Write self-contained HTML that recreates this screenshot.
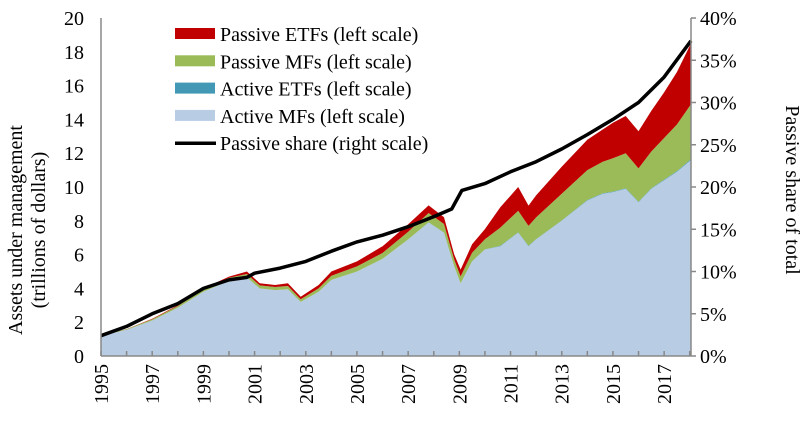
<!DOCTYPE html>
<html><head><meta charset="utf-8"><style>
body{margin:0;background:#fff;width:800px;height:418px;overflow:hidden}
svg text{font-family:"Liberation Serif",serif;fill:#000}
</style></head><body>
<svg id="c" width="800" height="418"></svg>
<script>
const years=[1995,1996,1997,1998,1999,2000,2000.7,2001.2,2001.8,2002.3,2002.8,2003.5,2004,2005,2006,2007,2007.8,2008.4,2008.8,2009.05,2009.5,2010,2010.6,2011.3,2011.7,2012,2013,2014,2014.6,2015,2015.5,2016,2016.5,2017,2017.5,2018.05];
const activeMF=[1.2,1.55,2.1,2.85,3.8,4.45,4.65,4.0,3.9,3.95,3.2,3.8,4.5,5.0,5.75,6.9,7.9,7.3,5.3,4.3,5.6,6.3,6.5,7.3,6.5,6.9,8.0,9.2,9.6,9.7,9.9,9.1,9.9,10.4,10.9,11.6];
const activeETF=[0,0,0,0,0,0,0,0,0,0,0,0,0,0,0,0,0.01,0.01,0.01,0.01,0.01,0.01,0.02,0.02,0.02,0.02,0.02,0.03,0.03,0.03,0.03,0.03,0.03,0.04,0.04,0.05];
const passiveMF=[0.03,0.04,0.07,0.11,0.15,0.18,0.2,0.18,0.18,0.19,0.16,0.2,0.25,0.3,0.35,0.45,0.55,0.5,0.4,0.4,0.5,0.6,1.08,1.28,1.18,1.28,1.58,1.77,1.87,1.97,2.07,1.97,2.17,2.46,2.76,3.25];
const passiveETF=[0.0,0.01,0.03,0.04,0.05,0.07,0.15,0.12,0.12,0.16,0.14,0.2,0.25,0.3,0.4,0.45,0.45,0.4,0.3,0.4,0.5,0.6,1.2,1.4,1.2,1.3,1.6,1.8,1.9,2.1,2.2,2.2,2.4,2.7,3.1,3.6];
const shareYears=[1995,1996,1997,1998,1999,2000,2000.7,2001,2002,2003,2004,2005,2006,2007,2008,2008.7,2009.1,2010,2011,2012,2013,2014,2015,2016,2017,2018.05];
const shareVals=[2.4,3.5,5,6.2,8,9,9.3,9.8,10.4,11.2,12.4,13.5,14.3,15.3,16.5,17.4,19.6,20.4,21.8,23,24.5,26.2,28,30,33,37.3];
const leftTicks=[0,2,4,6,8,10,12,14,16,18,20];
const rightTicks=[0,5,10,15,20,25,30,35,40];
const yearLabels=[1995,1997,1999,2001,2003,2005,2007,2009,2011,2013,2015,2017];

const NS="http://www.w3.org/2000/svg",svg=document.getElementById('c');
const X0=101,X1=691,Y0=356,Y1=18;
const x=v=>X0+(v-1995)*(X1-X0)/(2018.05-1995);
const yl=v=>Y0-v*(Y0-Y1)/20;
const yr=v=>Y0-v*(Y0-Y1)/40;
function el(t,a,p){const e=document.createElementNS(NS,t);for(const k in a)e.setAttribute(k,a[k]);(p||svg).appendChild(e);return e;}
function txt(s,a){const e=el('text',a);e.textContent=s;return e;}

const layers=[[activeMF,'#b8cce4','area-active-mfs'],[activeETF,'#4298b5','area-active-etfs'],[passiveMF,'#9bbb59','area-passive-mfs'],[passiveETF,'#c00000','area-passive-etfs']];
let base=years.map(()=>0);
layers.forEach(([vals,col,name])=>{
  const top=base.map((b,i)=>b+vals[i]);
  let d='M'+years.map((yy,i)=>x(yy).toFixed(1)+','+yl(top[i]).toFixed(1)).join('L');
  for(let i=years.length-1;i>=0;i--)d+='L'+x(years[i]).toFixed(1)+','+yl(base[i]).toFixed(1);
  const p=el('path',{d:d+'Z',fill:col});
  
  
  base=top;
});
const line=el('path',{d:'M'+shareYears.map((yy,i)=>x(yy).toFixed(1)+','+yr(shareVals[i]).toFixed(1)).join('L'),fill:'none',stroke:'#000','stroke-width':3.5,'stroke-linejoin':'round'});



const ax=el('g',{stroke:'#888','stroke-width':1.5});


el('line',{x1:X0,y1:Y1,x2:X0,y2:Y0},ax);
el('line',{x1:X1,y1:Y1,x2:X1,y2:Y0},ax);
el('line',{x1:X0,y1:Y0,x2:X1,y2:Y0},ax);
for(let yy=1995;yy<=2018;yy++)el('line',{x1:x(yy),y1:Y0,x2:x(yy),y2:Y0-5},ax);
rightTicks.forEach(v=>el('line',{x1:X1,y1:yr(v),x2:X1+5,y2:yr(v)},ax));

leftTicks.forEach(v=>{const t=txt(String(v),{x:84,y:yl(v)+7,'text-anchor':'end','font-size':20});
  });
rightTicks.forEach(v=>{const t=txt(v+'%',{x:700,y:yr(v)+7,'font-size':20});
  });
yearLabels.forEach(v=>{const t=txt(String(v),{x:0,y:0,'font-size':20,'text-anchor':'end',transform:`translate(${x(v)+7},364) rotate(-90)`});
  });

const lt=txt('Assets under management',{x:0,y:0,'font-size':20,'text-anchor':'middle',transform:'translate(22,230) rotate(-90)'});

const lt2=txt('(trillions of dollars)',{x:0,y:0,'font-size':20,'text-anchor':'middle',transform:'translate(45,230) rotate(-90)'});

const rt=txt('Passive share of total',{x:0,y:0,'font-size':20,'text-anchor':'middle',transform:'translate(786,190) rotate(90)'});


const leg=[['#c00000','Passive ETFs (left scale)'],['#9bbb59','Passive MFs (left scale)'],['#4298b5','Active ETFs (left scale)'],['#b8cce4','Active MFs (left scale)'],[null,'Passive share (right scale)']];
leg.forEach(([c,s],i)=>{
  const g=el('g',{});
  
  
  const cy=34+i*27.3;
  if(c)el('rect',{x:175,y:cy-6,width:40,height:11,fill:c},g);
  else el('line',{x1:175,y1:cy,x2:216,y2:cy,stroke:'#000','stroke-width':3.5},g);
  const t=el('text',{x:220,y:cy+7,'font-size':20},g);t.textContent=s;
});
</script>
</body></html>
